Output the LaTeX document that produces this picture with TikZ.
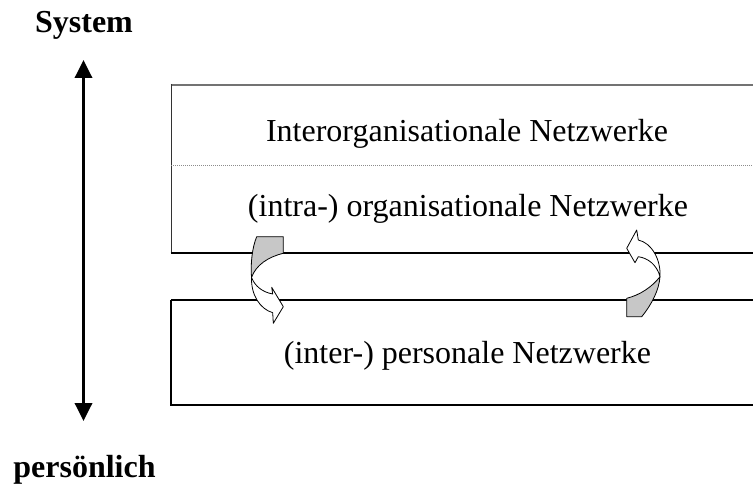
\documentclass[tikz,border=0pt]{standalone}
\usepackage{fontspec}
\setmainfont{Liberation Serif}
\usetikzlibrary{arrows.meta}
\begin{document}
\begin{tikzpicture}[x=1pt,y=-1pt,
  nettext/.style={font=\fontsize{32}{38}\selectfont, inner sep=0pt, anchor=base},
  axistext/.style={font=\fontsize{32}{38}\selectfont\bfseries, inner sep=0pt, anchor=base},
  turnback/.style={fill=black!22, draw=black, line width=0.8pt, line join=round},
  turnfront/.style={fill=white, draw=black, line width=0.8pt, line join=round},
  axisarrow/.style={line width=3.5pt, {Triangle[length=18pt,width=17pt]}-{Triangle[length=18pt,width=17pt]}}]
\useasboundingbox (0,0) rectangle (753,487);

% upper block: interorganisational and organisational networks
\draw[black!55, line width=2pt] (170.5,85) -- (753,85);
\draw[black!80, line width=1pt] (171,84) -- (171,253);
\draw[black, line width=1.2pt] (170.5,253) -- (753,253);
\draw[black!45, line width=0.9pt, dash pattern=on 1pt off 1pt] (171,165) -- (753,165);

% lower block: personal networks
\draw[black, line width=1.2pt] (171,300) -- (753,300);
\draw[black, line width=1.2pt] (171,300) -- (171,405) -- (753,405);

\node[nettext] (inter) at (467,141.7) {Interorganisationale Netzwerke};
\node[nettext] (intra) at (468,216.7) {(intra-) organisationale Netzwerke};
\node[nettext] (pers)  at (467.5,363) {(inter-) personale Netzwerke};

% axis from system level to personal level
\node[axistext] (sys) at (84,33) {System};
\node[axistext] (psn) at (84.5,477) {persönlich};
\coordinate (axtop) at (83.5,60);
\coordinate (axbot) at (83.5,421);
\draw[axisarrow] (axbot) -- (axtop);

% left turning arrow (down, towards the personal level)
\draw[turnback] (256.7,236.7) -- (283.3,236.7) -- (283.3,253.3)
  .. controls (268,257) and (256,265) .. (251.5,277.5)
  .. controls (250.5,264) and (252,248) .. (256.7,236.7) -- cycle;
\draw[turnfront] (251.5,277.5)
  .. controls (251,295) and (260,309) .. (272.7,312.7)
  -- (273.3,323.3) -- (283.3,306.7) -- (271.7,287.3) -- (272.7,294)
  .. controls (262,292) and (255,286) .. (251.5,277.5) -- cycle;

% right turning arrow (up, towards the organisational level)
\draw[turnback] (626.7,298.3) -- (626.7,316.7) -- (641.7,316.7)
  .. controls (652,304) and (659,290) .. (660,276.7)
  .. controls (652,287) and (640,295) .. (626.7,298.3) -- cycle;
\draw[turnfront] (660,276.7)
  .. controls (661,260) and (652,243) .. (638.3,240)
  -- (636.7,230) -- (626.7,248.3) -- (635,262.7) -- (638.3,256.7)
  .. controls (648,258) and (657,265) .. (660,276.7) -- cycle;
\end{tikzpicture}
\end{document}
